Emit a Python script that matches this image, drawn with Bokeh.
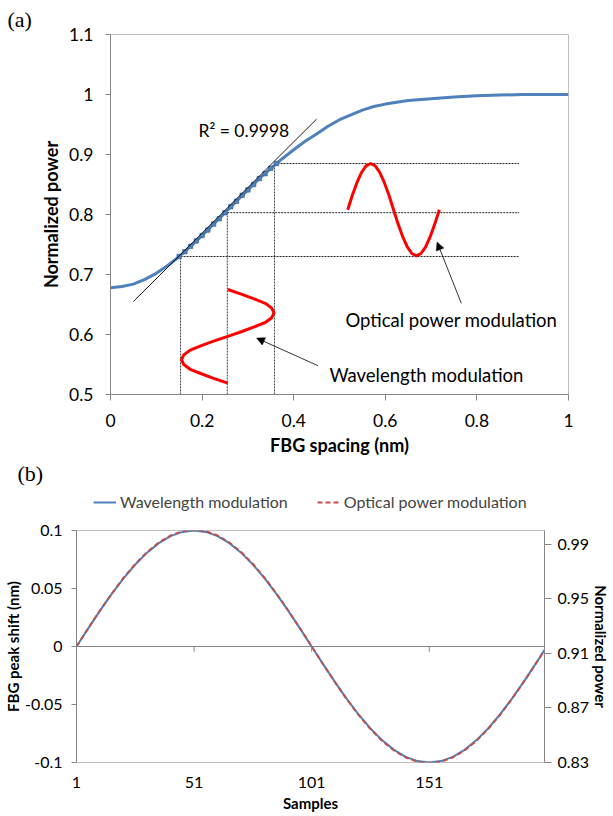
from bokeh.plotting import figure
from bokeh.models import (Range1d, LinearAxis, FixedTicker, PrintfTickFormatter, Label,
                          Arrow, NormalHead, Legend, LegendItem, Span)
from bokeh.embed import file_html
from bokeh.resources import INLINE

FONT = "Lato"
W = 613

# ---------------- (a) data ----------------
spacing = [0, 0.025, 0.05, 0.075, 0.1, 0.125, 0.15, 0.175, 0.2, 0.225, 0.25, 0.275, 0.3,
           0.325, 0.35, 0.375, 0.4, 0.425, 0.45, 0.475, 0.5, 0.525, 0.55, 0.575, 0.6,
           0.65, 0.7, 0.75, 0.8, 0.85, 0.9, 0.95, 1.0]
power = [0.678, 0.680, 0.684, 0.692, 0.702, 0.715, 0.730, 0.747, 0.765, 0.784, 0.803, 0.822,
         0.841, 0.860, 0.877, 0.893, 0.908, 0.922, 0.934, 0.947, 0.958, 0.966, 0.974, 0.980,
         0.984, 0.990, 0.993, 0.996, 0.998, 0.999, 1.000, 1.000, 1.000]

# fitted points in the linear region
fit_x = [0.15, 0.1625, 0.175, 0.1875, 0.2, 0.2125, 0.225, 0.2375, 0.25, 0.2625, 0.275,
         0.2875, 0.3, 0.3125, 0.325, 0.3375, 0.35, 0.3625]
fit_y = [0.730, 0.738, 0.747, 0.756, 0.765, 0.774, 0.784, 0.793, 0.803, 0.813, 0.822,
         0.832, 0.841, 0.850, 0.860, 0.868, 0.877, 0.885]

trend_x = [0.05, 0.45]
trend_y = [0.655, 0.959]
r2_text = "R² = 0.9998"

mod_x = [0.153, 0.255, 0.358]      # operating spacings
mod_p = [0.730, 0.803, 0.885]      # corresponding powers
guide_end = 0.892

# optical power modulation (horizontal sine)
opm_x = [0.518, 0.528, 0.538, 0.548, 0.558, 0.568, 0.578, 0.588, 0.598, 0.608, 0.618,
         0.628, 0.638, 0.648, 0.658, 0.668, 0.678, 0.688, 0.698, 0.708, 0.718]
opm_y = [0.808, 0.832, 0.853, 0.870, 0.881, 0.885, 0.881, 0.870, 0.853, 0.832, 0.808,
         0.784, 0.763, 0.746, 0.735, 0.731, 0.735, 0.746, 0.763, 0.784, 0.808]

# wavelength modulation (vertical sine)
wlm_y = [0.519, 0.527, 0.535, 0.542, 0.550, 0.558, 0.566, 0.574, 0.581, 0.589, 0.597,
         0.605, 0.613, 0.620, 0.628, 0.636, 0.644, 0.652, 0.659, 0.667, 0.675]
wlm_x = [0.256, 0.225, 0.197, 0.174, 0.160, 0.155, 0.160, 0.174, 0.197, 0.225, 0.256,
         0.287, 0.315, 0.338, 0.352, 0.357, 0.352, 0.338, 0.315, 0.287, 0.256]

a_xticks = [0, 0.2, 0.4, 0.6, 0.8, 1]
a_yticks = [0.5, 0.6, 0.7, 0.8, 0.9, 1, 1.1]

# ---------------- (b) data ----------------
samples = [1, 6, 11, 16, 21, 26, 31, 36, 41, 46, 51, 56, 61, 66, 71, 76, 81, 86, 91, 96,
           101, 106, 111, 116, 121, 126, 131, 136, 141, 146, 151, 156, 161, 166, 171, 176,
           181, 186, 191, 196, 200]
shift_nm = [0.0000, 0.0156, 0.0309, 0.0454, 0.0588, 0.0707, 0.0809, 0.0891, 0.0951, 0.0988,
            0.1000, 0.0988, 0.0951, 0.0891, 0.0809, 0.0707, 0.0588, 0.0454, 0.0309, 0.0156,
            0.0000, -0.0156, -0.0309, -0.0454, -0.0588, -0.0707, -0.0809, -0.0891, -0.0951,
            -0.0988, -0.1000, -0.0988, -0.0951, -0.0891, -0.0809, -0.0707, -0.0588, -0.0454,
            -0.0309, -0.0156, -0.0031]
norm_power = [0.9150, 0.9284, 0.9414, 0.9538, 0.9653, 0.9755, 0.9842, 0.9912, 0.9963, 0.9995,
              1.0005, 0.9995, 0.9963, 0.9912, 0.9842, 0.9755, 0.9653, 0.9538, 0.9414, 0.9284,
              0.9150, 0.9016, 0.8886, 0.8762, 0.8647, 0.8545, 0.8458, 0.8388, 0.8337, 0.8306,
              0.8295, 0.8306, 0.8337, 0.8388, 0.8458, 0.8545, 0.8647, 0.8762, 0.8886, 0.9016,
              0.9123]
b_xticks = [1, 51, 101, 151]
b_yticks = [-0.1, -0.05, 0, 0.05, 0.1]
b_rticks = [0.83, 0.87, 0.91, 0.95, 0.99]
legend_labels = ["Wavelength modulation", "Optical power modulation"]

BLUE = "#4F81BD"
RED = "#C0504D"
AXIS = "#868686"


def style_axis(ax, label_size, title_size):
    ax.axis_line_color = AXIS
    ax.major_tick_line_color = AXIS
    ax.minor_tick_line_color = None
    ax.major_tick_in = 0
    ax.major_label_text_font = FONT
    ax.major_label_text_font_size = label_size
    ax.major_label_text_color = "black"
    ax.axis_label_text_font = FONT
    ax.axis_label_text_font_size = title_size
    ax.axis_label_text_font_style = "bold"
    ax.axis_label_text_color = "black"


# ================= figure (a) =================
p1 = figure(width=W, height=460, x_range=Range1d(0, 1), y_range=Range1d(0.5, 1.1),
            output_backend="svg", toolbar_location=None, title="(a)",
            min_border_left=110, min_border_right=45, min_border_top=34, min_border_bottom=66)
p1.title.align = "left"
p1.title.offset = -103
p1.title.standoff = 4
p1.title.vertical_align = "middle"
p1.title.text_font = "Liberation Serif"
p1.title.text_font_size = "22px"
p1.title.text_font_style = "normal"
p1.title.text_color = "black"
p1.xgrid.visible = False
p1.ygrid.visible = False
p1.outline_line_color = "#BFBFBF"

style_axis(p1.xaxis[0], "17.5px", "18px")
style_axis(p1.yaxis[0], "17.5px", "18px")
p1.xaxis.ticker = FixedTicker(ticks=a_xticks)
p1.yaxis.ticker = FixedTicker(ticks=a_yticks)
p1.xaxis.formatter = PrintfTickFormatter(format="%.3g")
p1.yaxis.formatter = PrintfTickFormatter(format="%.3g")
p1.xaxis.major_tick_out = 6
p1.yaxis.major_tick_out = 5
p1.xaxis.major_label_standoff = 13
p1.yaxis.major_label_standoff = 12
p1.xaxis.axis_label = "FBG spacing (nm)"
p1.yaxis.axis_label = "Normalized power"
p1.xaxis.axis_label_standoff = 4
p1.yaxis.axis_label_standoff = 4

# guide lines
p1.segment(x0=mod_x, y0=mod_p, x1=[guide_end] * len(mod_x), y1=mod_p,
           line_color="black", line_width=1, line_dash="2 1", line_alpha=0.85)
p1.segment(x0=mod_x, y0=[0.5] * len(mod_x), x1=mod_x, y1=mod_p,
           line_color="black", line_width=1, line_dash="2 1", line_alpha=0.75)

p1.line(spacing, power, line_color=BLUE, line_width=3)
p1.scatter(fit_x, fit_y, marker="square", size=4.5, fill_color=BLUE, line_color="#385D8A",
           line_width=0.6)
p1.line(trend_x, trend_y, line_color="black", line_width=0.9)

p1.line(opm_x, opm_y, line_color="#FF0000", line_width=3)
p1.line(wlm_x, wlm_y, line_color="#FF0000", line_width=3)

p1.add_layout(Arrow(end=NormalHead(size=8, fill_color="black", line_color="black", line_width=0.5),
                    x_start=0.766, y_start=0.652, x_end=0.713, y_end=0.754,
                    line_color="black", line_width=0.8))
p1.add_layout(Arrow(end=NormalHead(size=8, fill_color="black", line_color="black", line_width=0.5),
                    x_start=0.453, y_start=0.548, x_end=0.319, y_end=0.594,
                    line_color="black", line_width=0.8))

p1.add_layout(Label(x=0.192, y=0.94, text=r2_text, text_font=FONT, text_font_size="17.5px",
                    text_baseline="middle", text_color="black"))
p1.add_layout(Label(x=0.513, y=0.625, text="Optical power modulation", text_font=FONT,
                    text_font_size="18.5px", text_baseline="middle", text_color="black"))
p1.add_layout(Label(x=0.478, y=0.533, text="Wavelength modulation", text_font=FONT,
                    text_font_size="18.5px", text_baseline="middle", text_color="black"))

# ================= header (b) with legend =================
HB = 60
hb = figure(width=W, height=HB, x_range=Range1d(0, W), y_range=Range1d(0, HB),
            x_axis_type=None, y_axis_type=None, output_backend="svg", toolbar_location=None,
            min_border=0)
hb.outline_line_color = None
hb.xgrid.visible = False
hb.ygrid.visible = False
hb.add_layout(Label(x=17, y=HB - 13, text="(b)", text_font="Liberation Serif",
                    text_font_size="22px", text_baseline="middle", text_color="black"))
lb = hb.line([0, 1], [-20, -20], line_color=BLUE, line_width=2)
lr = hb.line([0, 1], [-20, -20], line_color=RED, line_width=2, line_dash="5 3")
legend = Legend(items=[LegendItem(label=legend_labels[0], renderers=[lb]),
                       LegendItem(label=legend_labels[1], renderers=[lr])],
                orientation="horizontal", location=(93, 8.3), padding=0, margin=0,
                spacing=29, glyph_width=23, glyph_height=20, label_standoff=4,
                label_text_font=FONT, label_text_font_size="16px", label_height=20,
                border_line_color=None, background_fill_alpha=0)
hb.add_layout(legend, "center")

# ================= figure (b) =================
p2 = figure(width=W, height=296, x_range=Range1d(1, 200), y_range=Range1d(-0.1, 0.1),
            output_backend="svg", toolbar_location=None,
            min_border_left=75, min_border_right=68, min_border_top=10, min_border_bottom=54)
p2.xgrid.visible = False
p2.ygrid.visible = False
p2.outline_line_color = "#BFBFBF"
p2.extra_y_ranges = {"pw": Range1d(0.83, 1.0)}

left = p2.yaxis[0]
style_axis(left, "16px", "15px")
left.ticker = FixedTicker(ticks=b_yticks)
left.formatter = PrintfTickFormatter(format="%.3g")
left.major_tick_out = 5
left.major_label_standoff = 9
left.axis_label = "FBG peak shift (nm)"
left.axis_label_standoff = 0

right = LinearAxis(y_range_name="pw", ticker=FixedTicker(ticks=b_rticks),
                   formatter=PrintfTickFormatter(format="%.3g"), axis_label="Normalized power")
style_axis(right, "16px", "15px")
right.major_tick_out = 7
right.major_label_standoff = 6
right.axis_label_standoff = 0
p2.add_layout(right, "right")

bx = p2.xaxis[0]
style_axis(bx, "16px", "15px")
bx.ticker = FixedTicker(ticks=b_xticks)
bx.formatter = PrintfTickFormatter(format="%d")
bx.axis_line_color = None
bx.major_tick_out = 0
bx.major_label_standoff = 14
bx.axis_label = "Samples"
bx.axis_label_standoff = 3

p2.add_layout(Span(location=0, dimension="width", line_color=AXIS, line_width=1))
p2.segment(x0=b_xticks[1:], y0=0, x1=b_xticks[1:], y1=-0.0045, line_color=AXIS, line_width=1)

p2.line(samples, shift_nm, line_color=BLUE, line_width=2)
p2.line(samples, norm_power, y_range_name="pw", line_color=RED, line_width=2, line_dash="5 3")

open("out.html", "w").write(file_html([p1, hb, p2], INLINE))
